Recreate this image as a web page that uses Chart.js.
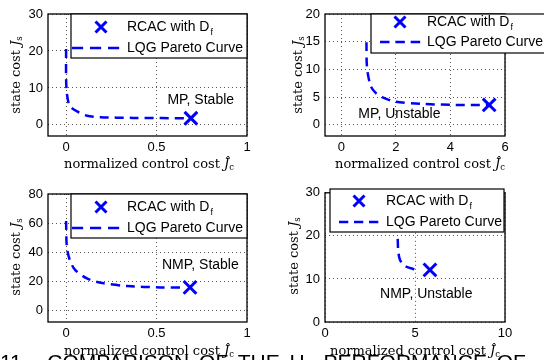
<!DOCTYPE html>
<html>
<head>
<meta charset="utf-8">
<script src="https://cdn.jsdelivr.net/npm/chart.js@4.4.1/dist/chart.umd.min.js"></script>
<style>
body{margin:0;width:544px;height:360px;overflow:hidden;background:#fff;position:relative;}
canvas{position:absolute;}
.xt,.yt{position:absolute;font-family:"DejaVu Serif";font-size:13px;white-space:nowrap;line-height:1;color:#000;}
.xt{transform:translate(-50%,-50%);}
.yt{transform:translate(-50%,-50%) rotate(-90deg);}
.xt i,.yt i{font-style:italic;}
sub{font-size:65%;vertical-align:-0.3em;line-height:0;}
#cap{position:absolute;left:0;top:351px;font-family:"Liberation Sans";font-size:21px;line-height:21px;word-spacing:4px;white-space:nowrap;color:#000;}
#cap sub{font-size:60%;}
</style>
</head>
<body>
<canvas id="c1" width="272" height="180" style="left:0;top:0"></canvas>
<canvas id="c2" width="272" height="180" style="left:272px;top:0"></canvas>
<canvas id="c3" width="272" height="180" style="left:0;top:180px"></canvas>
<canvas id="c4" width="272" height="180" style="left:272px;top:180px"></canvas>

<div class="xt" style="left:149px;top:163px">normalized control cost <i>&#308;</i><sub>c</sub></div>
<div class="xt" style="left:420px;top:163px">normalized control cost <i>&#308;</i><sub>c</sub></div>
<div class="xt" style="left:149px;top:350px">normalized control cost <i>&#308;</i><sub>c</sub></div>
<div class="xt" style="left:415px;top:350px">normalized control cost <i>&#308;</i><sub>c</sub></div>
<div class="yt" style="left:15px;top:75px">state cost <i>J</i><sub>s</sub></div>
<div class="yt" style="left:297px;top:75px">state cost <i>J</i><sub>s</sub></div>
<div class="yt" style="left:15px;top:257px">state cost <i>J</i><sub>s</sub></div>
<div class="yt" style="left:293px;top:256px">state cost <i>J</i><sub>s</sub></div>

<div id="cap">11.&nbsp;&nbsp;COMPARISON OF THE H<sub>&#8734;</sub> PERFORMANCE OF</div>

<script>
// LQG pareto curves (control cost, state cost) and RCAC points
const mpStableCtrl = [0, 0.002, 0.02, 0.07, 0.115, 0.19, 0.37, 0.69];
const mpStableState = [20.5, 10, 5.2, 3.4, 2.5, 2.1, 1.9, 1.8];
const mpStableRcac = [0.69, 1.8];

const mpUnstableCtrl = [0.92, 0.94, 1.07, 1.25, 1.49, 1.97, 2.94, 4.15, 5.36];
const mpUnstableState = [14.9, 10.4, 7.1, 5.8, 5.0, 4.2, 3.8, 3.6, 3.6];
const mpUnstableRcac = [5.42, 3.6];

const nmpStableCtrl = [0, 0.004, 0.02, 0.05, 0.115, 0.19, 0.34, 0.52, 0.65];
const nmpStableState = [61.4, 44, 34.8, 27.8, 22, 19, 16.7, 15.8, 15.8];
const nmpStableRcac = [0.685, 15.8];

const nmpUnstableCtrl = [4.04, 4.07, 4.17, 4.44, 5.0];
const nmpUnstableState = [19.3, 16.4, 14.4, 13, 12.2];
const nmpUnstableRcac = [5.83, 12.1];

// tick labels
const stableCtrlTicks = [0, 0.5, 1];
const mpStableStateTicks = [0, 10, 20, 30];
const mpUnstableCtrlTicks = [0, 2, 4, 6];
const mpUnstableStateTicks = [0, 5, 10, 15, 20];
const nmpStableStateTicks = [0, 20, 40, 60, 80];
const nmpUnstableCtrlTicks = [0, 5, 10];
const nmpUnstableStateTicks = [0, 10, 20, 30];

const caseNames = ["MP, Stable", "MP, Unstable", "NMP, Stable", "NMP, Unstable"];
const legendNames = ["RCAC with D", "LQG Pareto Curve"];

const BLUE = "#0000ff";

Chart.defaults.font.family = "Liberation Sans";
Chart.defaults.font.size = 13;
Chart.defaults.color = "#000";

function drawX(ctx, x, y, r){
  ctx.beginPath();
  ctx.moveTo(x - r, y - r);
  ctx.lineTo(x + r, y + r);
  ctx.moveTo(x - r, y + r);
  ctx.lineTo(x + r, y - r);
  ctx.stroke();
}

const framePlugin = {
  id: "frame",
  afterDraw(chart){
    const ctx = chart.ctx;
    const a = chart.chartArea;
    const o = chart.options.plugins.frame;
    ctx.save();
    ctx.setLineDash([]);
    ctx.strokeStyle = "#000";
    ctx.lineWidth = 1.3;
    ctx.strokeRect(a.left, a.top, a.right - a.left, a.bottom - a.top);

    // case label, placed in data coordinates
    ctx.font = "14px Liberation Sans";
    ctx.fillStyle = "#000";
    ctx.textBaseline = "middle";
    ctx.textAlign = "left";
    ctx.fillText(o.name,
      chart.scales.x.getPixelForValue(o.at[0]),
      chart.scales.y.getPixelForValue(o.at[1]));

    // legend box
    const L = o.legend;
    ctx.fillStyle = "#fff";
    ctx.fillRect(L.x, L.y, L.w, L.h);
    ctx.strokeStyle = "#000";
    ctx.lineWidth = 1.2;
    ctx.strokeRect(L.x, L.y, L.w, L.h);

    ctx.strokeStyle = BLUE;
    ctx.lineWidth = 3;
    drawX(ctx, L.mx, L.r1, 5.5);

    // three dashes for the pareto curve sample
    ctx.lineWidth = 2.5;
    const seg = (L.l2 - L.l1) / 3;
    ctx.beginPath();
    for(let k = 0; k < 3; k++){
      ctx.moveTo(L.l1 + k * seg, L.r2);
      ctx.lineTo(L.l1 + k * seg + seg * 0.62, L.r2);
    }
    ctx.stroke();

    ctx.fillStyle = "#000";
    ctx.font = "14px Liberation Sans";
    ctx.fillText(legendNames[0], L.tx, L.r1);
    const w = ctx.measureText(legendNames[0]).width;
    ctx.font = "9px Liberation Sans";
    ctx.fillText("f", L.tx + w + 1, L.r1 + 6);
    ctx.font = "14px Liberation Sans";
    ctx.fillText(legendNames[1], L.tx, L.r2);
    ctx.restore();
  }
};

function makePanel(id, ctrl, state, rcac, xr, yr, xTicks, yTicks, box, extra){
  const curve = ctrl.map((v, i) => ({x: v, y: state[i]}));
  return new Chart(document.getElementById(id), {
    type: "scatter",
    data: {
      datasets: [{
        label: legendNames[1],
        data: curve,
        showLine: true,
        borderColor: BLUE,
        borderWidth: 2.5,
        borderDash: [9, 6],
        pointRadius: 0,
        tension: 0.3
      }, {
        label: legendNames[0],
        data: [{x: rcac[0], y: rcac[1]}],
        pointStyle: "crossRot",
        pointRadius: 9,
        borderWidth: 3,
        borderColor: BLUE,
        backgroundColor: BLUE
      }]
    },
    options: {
      responsive: false,
      animation: false,
      devicePixelRatio: 1,
      layout: {padding: {left: 0, right: box.right, top: box.top, bottom: 0}},
      plugins: {
        legend: {display: false},
        tooltip: {enabled: false},
        frame: extra
      },
      scales: {
        x: {
          type: "linear",
          min: xr[0], max: xr[1],
          afterBuildTicks: s => { s.ticks = xTicks.map(v => ({value: v})); },
          afterFit: s => { s.height = box.xh; },
          ticks: {padding: 4, maxRotation: 0, callback: v => String(v)},
          grid: {color: "#555", lineWidth: 1, drawTicks: false},
          border: {display: false, dash: [1, 3]}
        },
        y: {
          type: "linear",
          min: yr[0], max: yr[1],
          afterBuildTicks: s => { s.ticks = yTicks.map(v => ({value: v})); },
          afterFit: s => { s.width = box.yw; },
          ticks: {padding: 5, callback: v => String(v)},
          grid: {color: "#555", lineWidth: 1, drawTicks: false},
          border: {display: false, dash: [1, 3]}
        }
      }
    },
    plugins: [framePlugin]
  });
}

makePanel("c1", mpStableCtrl, mpStableState, mpStableRcac,
  [-0.1, 1], [-3, 30], stableCtrlTicks, mpStableStateTicks,
  {right: 25, top: 14, xh: 44, yw: 48},
  {name: caseNames[0], at: [0.56, 6.6],
   legend: {x: 71, y: 14, w: 176, h: 44, mx: 101, r1: 27, r2: 48, l1: 72, l2: 126, tx: 127}});

makePanel("c2", mpUnstableCtrl, mpUnstableState, mpUnstableRcac,
  [-0.6, 6], [-2, 20], mpUnstableCtrlTicks, mpUnstableStateTicks,
  {right: 39, top: 14, xh: 44, yw: 53},
  {name: caseNames[1], at: [0.62, 1.9],
   legend: {x: 99, y: 14, w: 180, h: 39, mx: 128, r1: 22, r2: 42, l1: 108, l2: 154, tx: 155}});

makePanel("c3", nmpStableCtrl, nmpStableState, nmpStableRcac,
  [-0.1, 1], [-8, 80], stableCtrlTicks, nmpStableStateTicks,
  {right: 25, top: 14, xh: 38, yw: 48},
  {name: caseNames[2], at: [0.53, 31.3],
   legend: {x: 71, y: 14, w: 176, h: 44, mx: 101, r1: 27, r2: 48, l1: 72, l2: 126, tx: 127}});

makePanel("c4", nmpUnstableCtrl, nmpUnstableState, nmpUnstableRcac,
  [0, 10], [0, 30], nmpUnstableCtrlTicks, nmpUnstableStateTicks,
  {right: 39, top: 12, xh: 38, yw: 53},
  {name: caseNames[3], at: [3.06, 6.5],
   legend: {x: 58, y: 9, w: 174, h: 43, mx: 87, r1: 21, r2: 42, l1: 67, l2: 112, tx: 114}});
</script>
</body>
</html>
